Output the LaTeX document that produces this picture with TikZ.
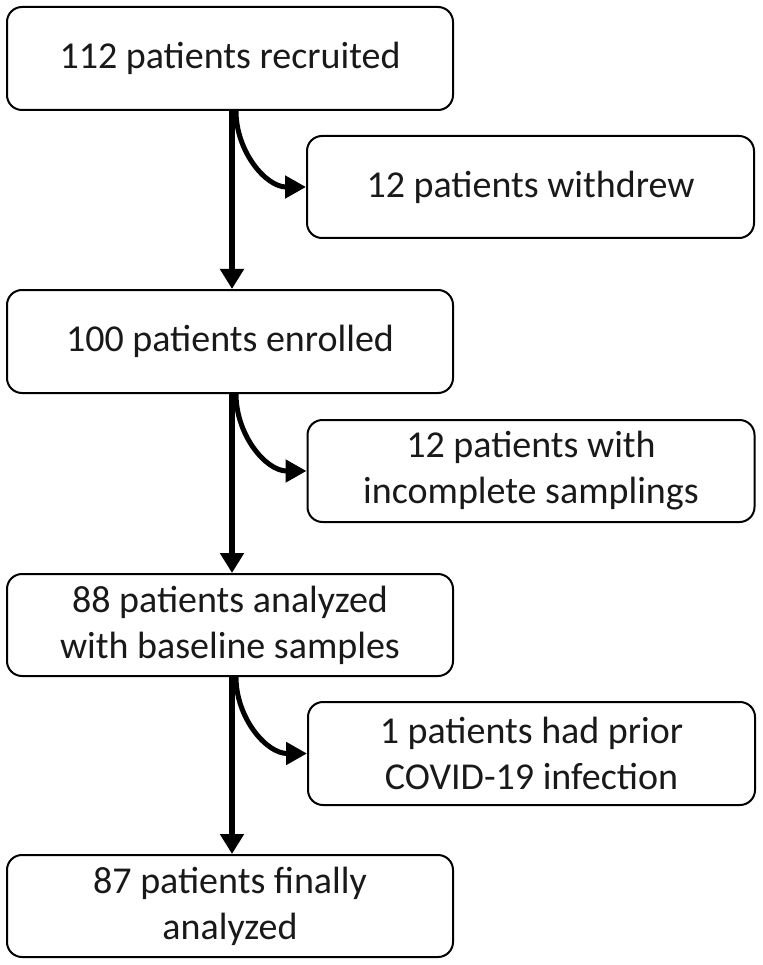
\documentclass[tikz,border=0pt]{standalone}
\usepackage{fontspec}
\setmainfont{Carlito}
\usetikzlibrary{arrows.meta}
\begin{document}
\begin{tikzpicture}[x=1pt,y=-1pt,
  box/.style={draw=black, line width=2pt, rounded corners=15pt, inner sep=0pt,
    minimum height=102pt, align=center, text=black!90,
    font=\fontsize{38}{46}\selectfont},
  mainbox/.style={box, minimum width=446pt},
  sidebox/.style={box, minimum width=447pt},
  mainarrow/.style={line width=6pt, -{Triangle[length=20pt,width=23pt]}},
  sidearrow/.style={line width=5pt, -{Triangle[length=21pt,width=22pt]}}]
\useasboundingbox (0,0) rectangle (762,965);
\node[mainbox, minimum height=103pt] (b1) at (230,58.5) {112 patients recruited};
\node[sidebox] (b2) at (530.5,187) {12 patients withdrew};
\node[mainbox, minimum height=103pt] (b3) at (230,341.5) {100 patients enrolled};
\node[sidebox] (b4) at (531,471) {12 patients with\\incomplete samplings};
\node[mainbox] (b5) at (230,625) {88 patients analyzed\\with baseline samples};
\node[sidebox, minimum height=103pt] (b6) at (531.5,753.5) {1 patients had prior\\COVID-19 infection};
\node[mainbox] (b7) at (230,906) {87 patients finally\\analyzed};
\draw[mainarrow] ([xshift=2pt]b1.south) -- ([xshift=2pt]b3.north);
\draw[mainarrow] ([xshift=2pt]b3.south) -- ([xshift=2pt]b5.north);
\draw[mainarrow] ([xshift=2pt]b5.south) -- ([xshift=2pt]b7.north);
\draw[sidearrow] ([xshift=6pt]b1.south) to[out=-90,in=180] (b2.west);
\draw[sidearrow] ([xshift=6pt]b3.south) to[out=-90,in=180] (b4.west);
\draw[sidearrow] ([xshift=6pt]b5.south) to[out=-90,in=180] (b6.west);
\end{tikzpicture}
\end{document}
